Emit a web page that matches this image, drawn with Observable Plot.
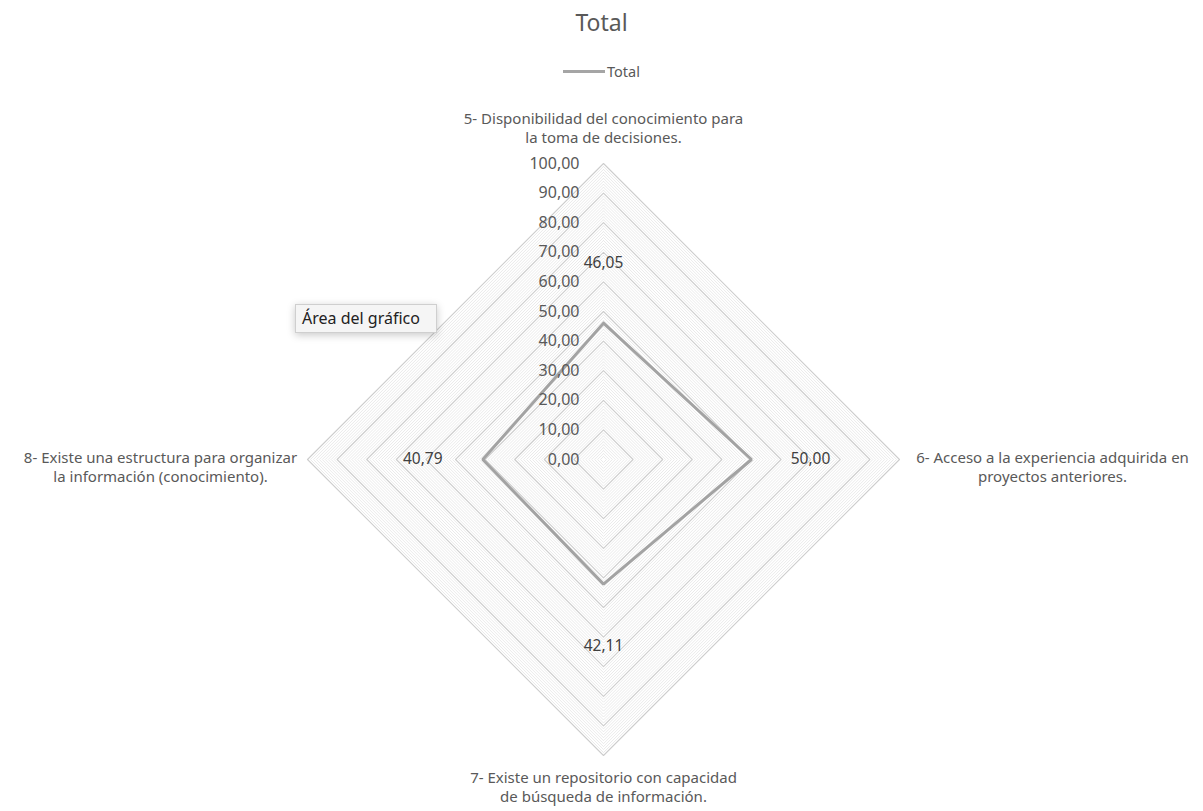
<!DOCTYPE html>
<html>
<head>
<meta charset="utf-8">
<script src="https://cdn.jsdelivr.net/npm/d3@7"></script>
<script src="https://cdn.jsdelivr.net/npm/@observablehq/plot@0.6"></script>
<style>
  html, body { margin: 0; padding: 0; background: #fff; }
  body { width: 1203px; height: 811px; position: relative; overflow: hidden; font-family: "Noto Sans", sans-serif; color: #595959; }
  #header { position: relative; height: 85px; }
  #title { position: absolute; left: 0; width: 1203px; top: 7px; text-align: center; font-size: 23px; line-height: 30px; color: #595959; }
  #legend { position: absolute; left: 0; width: 1203px; top: 61px; display: flex; justify-content: center; align-items: center; font-size: 14.5px; color: #595959; }
  #legend .swatch { width: 42px; height: 3px; background: #a5a5a5; margin-right: 2px; }
  #tip { position: absolute; left: 295px; top: 304px; width: 142px; height: 29px; box-sizing: border-box; border: 1px solid #cfcfcf; background: #f5f5f5; box-shadow: 0 2px 8px rgba(0,0,0,0.22); font-size: 16px; color: #222; line-height: 27px; padding-left: 6px; white-space: nowrap; font-family: "Noto Sans", sans-serif; }
</style>
</head>
<body>
<div id="header">
  <div id="title">Total</div>
  <div id="legend"><span class="swatch"></span><span>Total</span></div>
</div>
<div id="chart"></div>
<div id="tip">Área del gráfico</div>
<script>
// ---- data ----
const categories = [
  "5- Disponibilidad del conocimiento para\nla toma de decisiones.",
  "6- Acceso a la experiencia adquirida en\nproyectos anteriores.",
  "7- Existe un repositorio con capacidad\nde búsqueda de información.",
  "8- Existe una estructura para organizar\nla información (conocimiento)."
];
const values = [46.05, 50.00, 42.11, 40.79];
const seriesName = "Total";
const tickValues = [0, 10, 20, 30, 40, 50, 60, 70, 80, 90, 100];
const gridMinor = d3.range(1, 101);

// ---- helpers ----
const n = categories.length;
const angle = i => (i % n) * 2 * Math.PI / n; // clockwise from top
const px = (i, v) => v * Math.sin(angle(i));
const py = (i, v) => v * Math.cos(angle(i));
const fmt = v => v.toFixed(2).replace(".", ",");

// grid rings
const ringPts = [];
for (const r of gridMinor) {
  for (let i = 0; i <= n; i++) ringPts.push({ring: r, major: r % 10 === 0, x: px(i, r), y: py(i, r)});
}
// series polygon
const seriesPts = d3.range(n + 1).map(i => ({x: px(i, values[i % n]), y: py(i, values[i % n])}));
// value labels
const valueLabels = values.map((v, i) => ({i, x: px(i, v), y: py(i, v), text: fmt(v)}));
// axis category labels
const catLabels = categories.map((c, i) => ({i, x: px(i, 100), y: py(i, 100), text: c}));
// tick labels along first axis
const tickLabels = tickValues.map(t => ({x: px(0, t), y: py(0, t), text: fmt(t)}));

// per-direction offsets (style)
const valueOffsets = [{dx: 0, dy: -60}, {dx: 59, dy: 0}, {dx: 0, dy: 62}, {dx: -60, dy: 0}];
const catStyle = [
  {dx: 0, dy: -21, lineAnchor: "bottom"},
  {dx: 153, dy: -10, lineAnchor: "top"},
  {dx: 0, dy: 14, lineAnchor: "top"},
  {dx: -147, dy: -10, lineAnchor: "top"}
];

const chart = Plot.plot({
  width: 1203,
  height: 726,
  marginLeft: 307,
  marginRight: 304,
  marginTop: 78,
  marginBottom: 56,
  x: {domain: [-100, 100], axis: null},
  y: {domain: [-100, 100], axis: null},
  style: {fontFamily: "Noto Sans, sans-serif", fontSize: "13px", color: "#595959", background: "transparent", overflow: "visible"},
  marks: [
    Plot.line(ringPts.filter(d => !d.major), {x: "x", y: "y", z: "ring", stroke: "#e4e4e4", strokeWidth: 0.8, curve: "linear"}),
    Plot.line(ringPts.filter(d => d.major), {x: "x", y: "y", z: "ring", stroke: "#cdcdcd", strokeWidth: 1.1, curve: "linear"}),
    Plot.line(seriesPts, {x: "x", y: "y", stroke: "#a3a3a3", strokeWidth: 3, strokeLinejoin: "miter"}),
    Plot.text(tickLabels, {x: "x", y: "y", text: "text", textAnchor: "end", dx: -24, fill: "#595959", fontSize: 16}),
    ...valueOffsets.map((o, i) => Plot.text(valueLabels.filter(d => d.i === i), {x: "x", y: "y", text: "text", dx: o.dx, dy: o.dy, fill: "#404040", fontSize: 15.5})),
    ...catStyle.map((o, i) => Plot.text(catLabels.filter(d => d.i === i), {x: "x", y: "y", text: "text", dx: o.dx, dy: o.dy, lineAnchor: o.lineAnchor, lineHeight: 1.25, fill: "#595959", fontSize: 15}))
  ]
});
document.getElementById("chart").appendChild(chart);
</script>
</body>
</html>
